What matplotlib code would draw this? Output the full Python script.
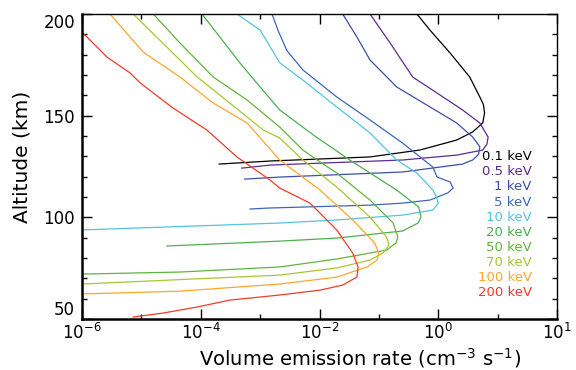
import numpy as np
import matplotlib
matplotlib.use("Agg")
import matplotlib.pyplot as plt

# Energy labels and line colours (top to bottom in the label column)
labels = ["0.1 keV", "0.5 keV", "1 keV", "5 keV", "10 keV",
          "20 keV", "50 keV", "70 keV", "100 keV", "200 keV"]
colors = ["#000000", "#5b2c8f", "#3b4fa8", "#3a68b8", "#55c3e0",
          "#4caf50", "#62b43c", "#a6c832", "#ffa62a", "#f03c28"]

# Curves: altitude (km) and log10 of emission rate
alt_01 = [126.2, 127.7, 129.7, 133.1, 138.0, 142.0, 146.4, 151.3, 155.5, 159.2, 169.0, 180.8, 192.1, 200.0]
log_01 = [-3.69, -2.83, -1.15, -0.31, 0.31, 0.58, 0.75, 0.78, 0.76, 0.70, 0.53, 0.20, -0.14, -0.36]

alt_05 = [124.2, 125.7, 128.2, 130.6, 133.1, 136.0, 139.5, 146.4, 152.8, 159.2, 169.0, 185.7, 200.0]
log_05 = [-3.31, -2.83, -0.60, 0.31, 0.75, 0.82, 0.84, 0.70, 0.41, 0.08, -0.43, -0.81, -1.15]

alt_1 = [118.8, 119.8, 122.3, 126.2, 128.2, 131.0, 134.7, 139.5, 146.4, 154.3, 164.1, 177.4, 188.7, 200.0]
log_1 = [-3.26, -2.67, -0.60, 0.41, 0.58, 0.68, 0.70, 0.58, 0.31, -0.14, -0.70, -1.15, -1.37, -1.61]

alt_5 = [104.1, 104.6, 106.0, 107.0, 108.5, 112.0, 114.4, 117.4, 119.8, 124.7, 136.5, 147.9, 159.2, 172.5, 182.0, 192.0, 200.0]
log_5 = [-3.17, -2.83, -1.15, -0.60, -0.14, 0.16, 0.25, 0.20, -0.02, -0.09, -0.60, -1.15, -1.71, -2.28, -2.55, -2.70, -2.80]

alt_10 = [93.8, 97.2, 98.7, 101.1, 103.6, 107.0, 110.0, 113.4, 121.8, 128.2, 141.5, 154.3, 167.5, 176.0, 192.1, 200.0]
log_10 = [-6.0, -2.67, -1.71, -0.60, -0.09, 0.0, -0.03, -0.09, -0.36, -0.70, -1.15, -1.71, -2.28, -2.67, -3.0, -3.39]

alt_20 = [85.9, 88.3, 89.8, 93.3, 97.2, 100.1, 105.1, 113.4, 121.8, 128.2, 140.0, 152.8, 164.1, 175.9, 188.7, 200.0]
log_20 = [-4.57, -2.67, -1.71, -0.60, -0.34, -0.29, -0.33, -0.70, -1.15, -1.49, -2.08, -2.67, -3.0, -3.34, -3.68, -3.98]

alt_50 = [72.1, 73.1, 75.6, 79.5, 83.9, 87.4, 90.3, 97.2, 108.5, 121.8, 128.2, 133.1, 144.4, 157.7, 169.0, 185.7, 200.0]
log_50 = [-6.0, -4.35, -2.67, -1.71, -0.87, -0.71, -0.68, -0.76, -1.15, -1.71, -2.04, -2.28, -2.67, -3.22, -3.79, -4.35, -4.80]

alt_70 = [67.2, 71.6, 75.1, 79.0, 82.4, 86.4, 90.3, 100.1, 114.9, 128.2, 139.0, 143.0, 156.2, 169.0, 185.7, 200.0]
log_70 = [-6.0, -2.67, -1.71, -1.15, -0.93, -0.83, -0.87, -1.15, -1.71, -2.28, -2.67, -2.95, -3.51, -4.06, -4.64, -5.14]

alt_100 = [62.3, 63.7, 67.2, 70.6, 75.6, 79.0, 82.4, 87.4, 98.7, 113.4, 128.2, 146.4, 156.2, 169.0, 181.3, 200.0]
log_100 = [-6.0, -4.35, -2.67, -1.71, -1.20, -1.03, -1.00, -1.07, -1.44, -1.99, -2.67, -3.22, -3.79, -4.35, -4.97, -5.53]

alt_200 = [51.0, 52.9, 55.9, 59.3, 61.8, 64.2, 66.7, 70.6, 75.6, 82.4, 93.8, 107.0, 114.4, 118.3, 129.7,
           143.0, 153.8, 166.1, 171.0, 178.8, 191.1]
log_200 = [-5.14, -4.64, -4.06, -3.51, -2.67, -1.99, -1.61, -1.37, -1.35, -1.44, -1.71, -2.16, -2.67, -2.83, -3.39,
           -3.90, -4.47, -5.02, -5.19, -5.58, -6.0]

curves = [(alt_01, log_01), (alt_05, log_05), (alt_1, log_1), (alt_5, log_5), (alt_10, log_10),
          (alt_20, log_20), (alt_50, log_50), (alt_70, log_70), (alt_100, log_100), (alt_200, log_200)]

xtick_vals = [1e-6, 1e-4, 1e-2, 1e0, 1e2]
xtick_labels = [r"$10^{-6}$", r"$10^{-4}$", r"$10^{-2}$", r"$10^{0}$", r"$10^{1}$"]
ytick_vals = [50, 100, 150, 200]

fig = plt.figure(figsize=(5.76, 3.70), dpi=100)
ax = fig.add_axes([0.1424, 0.1378, 0.8246, 0.8244])

for (alt, lg), c in zip(curves, colors):
    ax.plot(10 ** np.array(lg), alt, color=c, lw=0.9)

ax.set_xscale("log")
ax.set_xlim(1e-6, 1e2)
ax.set_ylim(50, 200)

ax.set_xticks(xtick_vals)
ax.set_xticklabels(xtick_labels)
ax.set_xticks([1e-5, 1e-3, 1e-1, 1e1], minor=True)
ax.xaxis.set_minor_formatter(matplotlib.ticker.NullFormatter())
ax.set_yticks(ytick_vals)
ax.set_yticks(np.arange(50, 201, 10), minor=True)

ax.tick_params(which="both", direction="in", top=True, right=True, labelsize=12)
ax.tick_params(axis="x", pad=3)
ax.tick_params(axis="y", pad=5)
ax.tick_params(which="major", length=7, width=1)
ax.tick_params(which="minor", length=3.5, width=1)

# end labels sit inside the axis range, as in the original
ylabs = ax.get_yticklabels()
ylabs[0].set_va("bottom")
ylabs[-1].set_va("top")

for s in ["left", "bottom"]:
    ax.spines[s].set_linewidth(1.8)
for s in ["top", "right"]:
    ax.spines[s].set_linewidth(1.0)

ax.set_xlabel(r"Volume emission rate (cm$^{-3}$ s$^{-1}$)", fontsize=14)
ax.xaxis.set_label_coords(0.585, -0.09)
ax.set_ylabel("Altitude (km)", fontsize=14.5)
ax.yaxis.set_label_coords(-0.106, 0.531)

# label column on the right
for i, (lab, c) in enumerate(zip(labels, colors)):
    ax.text(0.947, 0.532 - i * 0.0495, lab, color=c, fontsize=9.5,
            ha="right", va="center", transform=ax.transAxes)

fig.savefig("out.png", dpi=100)
